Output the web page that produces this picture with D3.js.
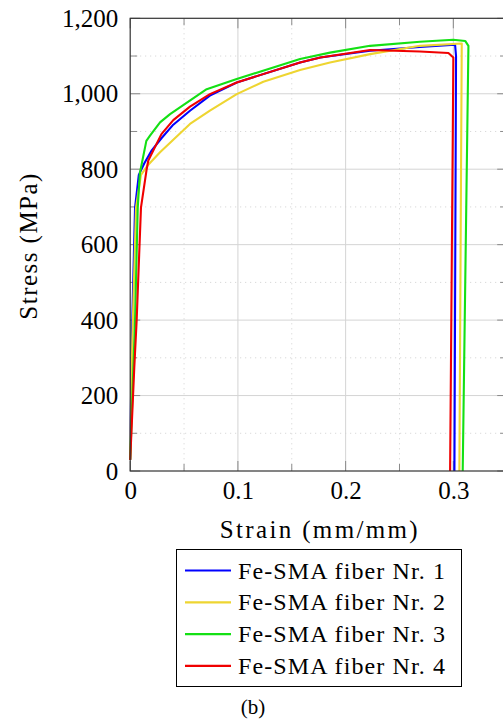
<!DOCTYPE html>
<html>
<head>
<meta charset="utf-8">
<script src="https://cdn.jsdelivr.net/npm/d3@7"></script>
<style>
  body { margin: 0; background: #fff; }
</style>
</head>
<body>
<svg id="chart" width="503" height="727"></svg>
<script>
// strain (mm/mm), stress (MPa)
const seriesNames = ["Fe-SMA fiber Nr. 1", "Fe-SMA fiber Nr. 2", "Fe-SMA fiber Nr. 3", "Fe-SMA fiber Nr. 4"];
const seriesColors = ["#0000ff", "#eed531", "#14e014", "#f00000"];

const fiber1 = [[0, 30], [0.0015, 350], [0.0045, 698], [0.008, 785], [0.013, 815], [0.02, 850], [0.029, 882],
  [0.04, 918], [0.0555, 955], [0.074, 995], [0.0989, 1030], [0.1577, 1083], [0.1765, 1096], [0.2227, 1114],
  [0.269, 1124], [0.3016, 1130], [0.3025, 1100], [0.301, 0]];
const fiber2 = [[0, 30], [0.002, 350], [0.0054, 698], [0.01, 785], [0.0168, 812], [0.0277, 845], [0.0555, 920],
  [0.074, 955], [0.0989, 999], [0.1236, 1032], [0.1577, 1063], [0.1855, 1083], [0.2227, 1105], [0.269, 1127],
  [0.3078, 1133], [0.3056, 0]];
const fiber3 = [[0, 30], [0.0045, 400], [0.007, 698], [0.009, 790], [0.015, 875], [0.0184, 889], [0.0277, 924],
  [0.037, 946], [0.071, 1012], [0.0989, 1039], [0.1577, 1092], [0.1855, 1109], [0.2227, 1127], [0.269, 1138],
  [0.300, 1143], [0.311, 1140], [0.314, 1127], [0.3087, 0]];
const fiber4 = [[0, 29], [0.0038, 275], [0.006, 400], [0.010, 698], [0.0153, 800], [0.0168, 823], [0.029, 893],
  [0.04, 930], [0.0555, 966], [0.074, 999], [0.0989, 1030], [0.1577, 1083], [0.1765, 1096], [0.2227, 1116],
  [0.269, 1112], [0.2954, 1108], [0.300, 1096], [0.2995, 900], [0.297, 0]];
const allSeries = [fiber1, fiber2, fiber3, fiber4];

const xMajor = [0, 0.1, 0.2, 0.3];
const xMinor = [0.05, 0.15, 0.25];
const yMajor = [0, 200, 400, 600, 800, 1000, 1200];
const yMinor = [100, 300, 500, 700, 900, 1100];

const serif = "'Liberation Serif', 'DejaVu Serif', serif";

// Layout
const margin = { left: 130.2, top: 18.3 };
const width = 377, height = 452.7;

const svg = d3.select("#chart").attr("font-family", serif);
const g = svg.append("g").attr("transform", `translate(${margin.left},${margin.top})`);

const x = d3.scaleLinear().domain([0, 0.35]).range([0, width]);
const y = d3.scaleLinear().domain([0, 1200]).range([height, 0]);

// Grid lines
const grid = g.append("g");
grid.selectAll(".gx").data(xMajor.slice(1)).join("line")
  .attr("x1", d => x(d)).attr("x2", d => x(d)).attr("y1", 0).attr("y2", height)
  .attr("stroke", "#d4d4d4").attr("stroke-width", 1);
grid.selectAll(".gy").data(yMajor.slice(1, -1)).join("line")
  .attr("y1", d => y(d)).attr("y2", d => y(d)).attr("x1", 0).attr("x2", width)
  .attr("stroke", "#d4d4d4").attr("stroke-width", 1);
grid.selectAll(".mx").data(xMinor).join("line")
  .attr("x1", d => x(d)).attr("x2", d => x(d)).attr("y1", 0).attr("y2", height)
  .attr("stroke", "#d0d0d0").attr("stroke-dasharray", "1,4");
grid.selectAll(".my").data(yMinor).join("line")
  .attr("y1", d => y(d)).attr("y2", d => y(d)).attr("x1", 0).attr("x2", width)
  .attr("stroke", "#d0d0d0").attr("stroke-dasharray", "1,4");

// Inner ticks on all four sides
function tickMarks(sel, values, len) {
  sel.selectAll(null).data(values).join("line")
    .attr("x1", d => x(d)).attr("x2", d => x(d)).attr("y1", height).attr("y2", height - len);
  sel.selectAll(null).data(values).join("line")
    .attr("x1", d => x(d)).attr("x2", d => x(d)).attr("y1", 0).attr("y2", len);
}
const ticks = g.append("g").attr("stroke", "#8a8a8a").attr("stroke-width", 1);
tickMarks(ticks, xMajor, 10);
tickMarks(ticks, xMinor, 7);
[[yMajor, 10], [yMinor, 7]].forEach(([vals, len]) => {
  ticks.append("g").selectAll("line").data(vals).join("line")
    .attr("y1", d => y(d)).attr("y2", d => y(d)).attr("x1", 0).attr("x2", len);
  ticks.append("g").selectAll("line").data(vals).join("line")
    .attr("y1", d => y(d)).attr("y2", d => y(d)).attr("x1", width).attr("x2", width - len);
});

// Data lines
const line = d3.line().x(d => x(d[0])).y(d => y(d[1]));
g.append("g").selectAll("path").data(allSeries).join("path")
  .attr("d", line)
  .attr("fill", "none")
  .attr("stroke", (d, i) => seriesColors[i])
  .attr("stroke-width", 2.1)
  .attr("stroke-linejoin", "round");

// Frame
g.append("rect").attr("width", width).attr("height", height)
  .attr("fill", "none").attr("stroke", "#333").attr("stroke-width", 1.2);

// Tick labels through d3 axes (tick lines hidden)
const xAxis = g.append("g").attr("transform", `translate(0,${height})`)
  .call(d3.axisBottom(x).tickValues(xMajor).tickSize(0).tickPadding(10)
    .tickFormat(d => d === 0 ? "0" : d3.format(".1f")(d)));
const yAxis = g.append("g")
  .call(d3.axisLeft(y).tickValues(yMajor).tickSize(0).tickPadding(12).tickFormat(d3.format(",")));
[xAxis, yAxis].forEach(a => {
  a.attr("font-family", serif).attr("font-size", 25);
  a.select(".domain").remove();
  a.selectAll("text").attr("fill", "#000");
});

// Axis titles (stretched to the wider TeX font widths)
svg.append("text")
  .attr("x", margin.left + width / 2).attr("y", 538)
  .attr("text-anchor", "middle").attr("font-size", 25)
  .attr("textLength", 198).attr("lengthAdjust", "spacing")
  .text("Strain (mm/mm)");
svg.append("text")
  .attr("transform", `translate(37,${margin.top + height / 2 + 2}) rotate(-90)`)
  .attr("text-anchor", "middle").attr("font-size", 25)
  .attr("textLength", 146).attr("lengthAdjust", "spacing")
  .text("Stress (MPa)");

// Legend
const legend = svg.append("g");
legend.append("rect").attr("x", 176.5).attr("y", 549.5).attr("width", 285).attr("height", 137)
  .attr("fill", "#fff").attr("stroke", "#000").attr("stroke-width", 1);
const rows = legend.selectAll("g.row").data(seriesNames).join("g")
  .attr("transform", (d, i) => `translate(0,${570.5 + i * 31.8})`);
rows.append("line").attr("x1", 185).attr("x2", 231).attr("y1", 0).attr("y2", 0)
  .attr("stroke", (d, i) => seriesColors[i]).attr("stroke-width", 2.2);
rows.append("text").attr("x", 238).attr("y", 8).attr("font-size", 24)
  .attr("textLength", 207).attr("lengthAdjust", "spacing")
  .text(d => d);

// Caption
svg.append("text").attr("x", 253).attr("y", 714).attr("text-anchor", "middle")
  .attr("font-size", 21).text("(b)");
</script>
</body>
</html>
